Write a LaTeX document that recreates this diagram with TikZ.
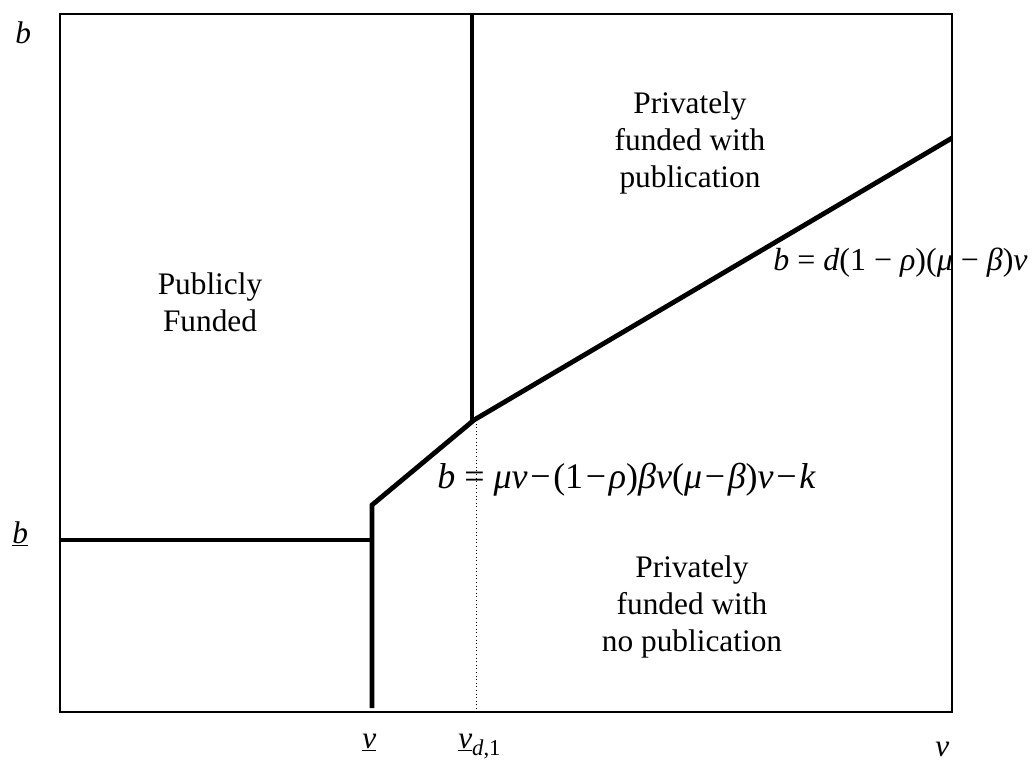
\documentclass[tikz,border=0pt]{standalone}
\usepackage{fontspec}
\setmainfont{Liberation Serif}
\newcommand{\iv}[1]{\textit{#1}}
\newcommand{\mn}{\kern2pt−\kern2pt}
\begin{document}
\begin{tikzpicture}[x=0.75pt,y=-0.75pt,
  txt/.style={font=\fontsize{23.5}{27.5}\selectfont, inner sep=0pt, align=center},
  lbl/.style={font=\fontsize{23.5}{27.5}\selectfont, inner sep=0pt},
  frame/.style={line width=1.6pt},
  thickline/.style={line width=3.6pt},
  dotline/.style={line width=0.7pt, dotted}]
\useasboundingbox (0,0) rectangle (1033,763);
% frame
\coordinate (tl) at (60,14);
\coordinate (br) at (952,712);
\draw[frame] (tl) rectangle (br);
% boundary points
\coordinate (A) at (61,540);
\coordinate (B) at (372,540);
\coordinate (C) at (372,708);
\coordinate (D) at (372,505);
\coordinate (E) at (474,420);
\coordinate (F) at (952,138);
\coordinate (G) at (472,14);
\coordinate (Gb) at (472,421);
\coordinate (Ht) at (476,420);
\coordinate (Hb) at (476,712);
\draw[thickline] (A) -- (B);
\draw[thickline] (C) -- (D) -- (E) -- (F);
\draw[thickline] (G) -- (Gb);
\draw[dotline] (Ht) -- (Hb);
% region labels
\node[txt] (pub) at (210,302) {Publicly\\Funded};
\node[txt] (pwp) at (690,143) {Privately\\funded with\\publication};
\node[txt] (pnp) at (692,607) {Privately\\funded with\\no publication};
% equations
\node[lbl, font=\fontsize{24}{28}\selectfont, anchor=base west] (eq1) at (773,271) {\iv{b} = \iv{d}(1 − \iv{ρ})(\iv{μ} − \iv{β})\iv{v}};
\node[lbl, font=\fontsize{27}{31}\selectfont, anchor=base west] (eq2) at (437,488) {\iv{b} = \iv{μv}\mn(1\mn\iv{ρ})\iv{βv}(\iv{μ}\mn\iv{β})\iv{v}\mn\iv{k}};
% axis labels
\node[lbl, anchor=base west] (by) at (15,44) {\iv{b}};
\node[lbl, anchor=base west] (bl) at (12,543) {\underline{\iv{b}}};
\node[lbl, anchor=base west] (vl) at (362,748) {\underline{\iv{v}}};
\node[lbl, anchor=base west] (vd) at (458,748) {\underline{\iv{v}}\raisebox{-5.5pt}{\fontsize{17}{20}\selectfont\iv{d},1}};
\node[lbl, anchor=base west] (vx) at (935,756) {\iv{v}};
\end{tikzpicture}
\end{document}
